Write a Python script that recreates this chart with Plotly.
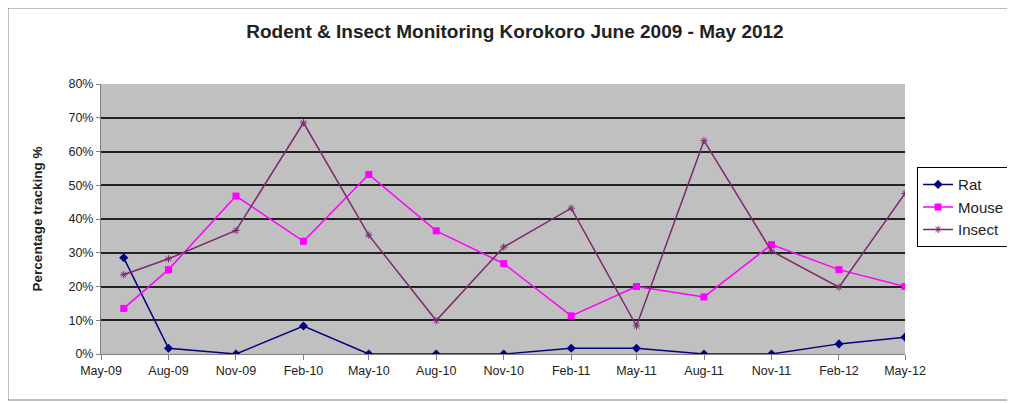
import plotly.graph_objects as go

dates = ["2009-06-01", "2009-08-01", "2009-11-01", "2010-02-01", "2010-05-01",
         "2010-08-01", "2010-11-01", "2011-02-01", "2011-05-01", "2011-08-01",
         "2011-11-01", "2012-02-01", "2012-05-01"]
rat = [0.285, 0.017, 0.0, 0.083, 0.0, 0.0, 0.0, 0.017, 0.017, 0.0, 0.0, 0.03, 0.05]
mouse = [0.135, 0.25, 0.468, 0.334, 0.532, 0.365, 0.268, 0.113, 0.20, 0.169, 0.324, 0.25, 0.20]
insect = [0.235, 0.282, 0.366, 0.685, 0.352, 0.099, 0.317, 0.432, 0.083, 0.632, 0.305, 0.198, 0.476]

tick_dates = ["2009-05-01", "2009-08-01", "2009-11-01", "2010-02-01", "2010-05-01",
              "2010-08-01", "2010-11-01", "2011-02-01", "2011-05-01", "2011-08-01",
              "2011-11-01", "2012-02-01", "2012-05-01"]
tick_labels = ["May-09", "Aug-09", "Nov-09", "Feb-10", "May-10", "Aug-10", "Nov-10",
               "Feb-11", "May-11", "Aug-11", "Nov-11", "Feb-12", "May-12"]
y_ticks = [0, 0.1, 0.2, 0.3, 0.4, 0.5, 0.6, 0.7, 0.8]

FONT = "Liberation Sans, Arial, sans-serif"

# the page body has an 8px margin, so the figure is sized/offset to compensate
W, H = 1007, 395
L, R, T, B = 93, 110, 76, 49
PW, PH = W - L - R, H - T - B

fig = go.Figure()
fig.add_trace(go.Scatter(x=dates, y=rat, name="Rat", mode="lines+markers",
                         line=dict(color="#000080", width=1.5),
                         marker=dict(symbol="diamond", size=7, color="#000080")))
fig.add_trace(go.Scatter(x=dates, y=mouse, name="Mouse", mode="lines+markers",
                         line=dict(color="#ff00ff", width=1.5),
                         marker=dict(symbol="square", size=7, color="#ff00ff")))
fig.add_trace(go.Scatter(x=dates, y=insect, name="Insect", mode="lines+markers",
                         line=dict(color="#7a2a6e", width=1.5),
                         marker=dict(symbol="asterisk-open", size=6, color="#7a2a6e",
                                     line=dict(color="#7a2a6e", width=1))))

fig.update_layout(
    width=W, height=H,
    margin=dict(l=L, r=R, t=T, b=B, autoexpand=False),
    paper_bgcolor="white",
    plot_bgcolor="#c0c0c0",
    font=dict(family=FONT, size=12, color="#000000"),
    title=dict(text="<b>Rodent &amp; Insect Monitoring Korokoro June 2009 - May 2012</b>",
               x=507 / W, xanchor="center", y=1 - 23 / H, yanchor="middle",
               font=dict(family=FONT, size=19, color="#222222")),
    showlegend=True,
    legend=dict(x=1.015, xanchor="left", y=0.692, yanchor="top",
                bordercolor="#000000", borderwidth=1, bgcolor="white",
                font=dict(family=FONT, size=15, color="#222222"), itemwidth=30,
                tracegroupgap=0),
    xaxis=dict(type="date", range=["2009-05-01", "2012-05-01"],
               tickvals=tick_dates, ticktext=tick_labels,
               showgrid=False, zeroline=False,
               showline=True, linecolor="#808080", linewidth=1,
               ticks="outside", ticklen=5, tickcolor="#808080",
               tickfont=dict(family=FONT, size=12.5, color="#222222")),
    yaxis=dict(range=[0, 0.8], tickvals=y_ticks, tickformat=".0%",
               showgrid=True, gridcolor="#222222", gridwidth=2,
               zeroline=False,
               showline=True, linecolor="#808080", linewidth=1,
               ticks="outside", ticklen=4, tickcolor="#808080",
               title=dict(text="<b>Percentage tracking %</b>", standoff=22,
                          font=dict(family=FONT, size=13.5, color="#222222")),
               tickfont=dict(family=FONT, size=12.5, color="#222222")),
)

fig.add_shape(type="rect", xref="paper", yref="paper",
              x0=(0 - L) / PW, x1=1.2, y0=-(H - 3 - (T + PH)) / PH, y1=1 + (T - 0) / PH,
              line=dict(color="#808080", width=1), layer="below")

fig.write_html("out.html")
